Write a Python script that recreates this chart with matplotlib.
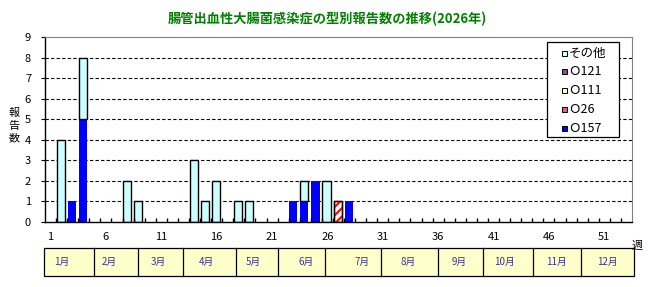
# 腸管出血性大腸菌感染症の型別報告数の推移
import numpy as np
import matplotlib
matplotlib.use('Agg')
import matplotlib.pyplot as plt
from matplotlib.patches import Rectangle

plt.rcParams['font.family'] = ['Noto Sans CJK JP', 'DejaVu Sans']
plt.rcParams['hatch.linewidth'] = 1.5

weeks = np.arange(1, 54)

# reports per week (weeks 1..53)
o157 = np.zeros(53)
o157[[2, 3, 22, 23, 24, 27]] = [1, 5, 1, 1, 2, 1]
o26 = np.zeros(53)
o26[26] = 1
o111 = np.zeros(53)
o121 = np.zeros(53)
other = np.zeros(53)
other[[1, 3, 7, 8, 13, 14, 15, 17, 18, 23, 25]] = [4, 3, 2, 1, 3, 1, 2, 1, 1, 1, 2]

week_ticks = [1, 6, 11, 16, 21, 26, 31, 36, 41, 46, 51]
months = ['1月', '2月', '3月', '4月', '5月', '6月', '7月', '8月', '9月', '10月', '11月', '12月']
# month cell edges (pixels) and label centres, as laid out in the original
month_edges = [44, 94, 137.5, 183, 236, 278, 325, 381, 437.5, 482.5, 532.5, 581, 634]
month_pos = [62, 109, 158, 206, 253, 306, 362, 408, 459, 504, 556, 607]

styles = {
    'O157': dict(facecolor='#0000FF', edgecolor='none'),
    'O26': dict(facecolor='white', edgecolor='#FF0000', hatch='////'),
    'O111': dict(facecolor='#FFFFCC', edgecolor='black'),
    'O121': dict(facecolor='white', edgecolor='#660066', hatch='\\\\\\\\'),
    'other': dict(facecolor='#CCFFFF', edgecolor='black'),
}
# legend swatches are too small for a hatch, so they get a mixed fill
swatches = {
    'other': '#CCFFFF',
    'O121': '#8C4C8C',
    'O111': '#FFFFCC',
    'O26': '#F06060',
    'O157': '#0000FF',
}

W, H = 655, 287
fig = plt.figure(figsize=(W / 100, H / 100), dpi=100)
ax = fig.add_axes([45 / W, 1 - 222 / H, (632 - 45) / W, (222 - 37) / H])

bw = 0.74
bottom = np.zeros(53)
for key, vals in [('O157', o157), ('O26', o26), ('O111', o111),
                  ('O121', o121), ('other', other)]:
    kw = styles[key]
    m = vals > 0
    ax.bar(weeks[m] - 0.08, vals[m], bw, bottom=bottom[m], linewidth=1.0, **kw)
    if 'hatch' in kw:
        ax.bar(weeks[m] - 0.08, vals[m], bw, bottom=bottom[m], fill=False,
               edgecolor='black', linewidth=1.0)
    bottom += vals

ax.set_xlim(0.5, 53.5)
ax.set_ylim(0, 9)
ax.set_yticks(range(0, 10))
ax.tick_params(axis='y', direction='out', length=3, labelsize=8, pad=7)
ax.set_xticks(week_ticks)
ax.set_xticklabels([str(w) for w in week_ticks])
ax.tick_params(axis='x', which='major', length=0, labelsize=8, pad=7)
ax.set_xticks(np.arange(1.5, 53, 1), minor=True)
ax.tick_params(axis='x', which='minor', direction='in', length=3, width=1)
for y in range(1, 9):
    ax.axhline(y, color='black', lw=0.8, ls=(0, (3, 2)), zorder=0.5)
for s in ['top', 'right']:
    ax.spines[s].set_color('#808080')
for s in ['left', 'bottom']:
    ax.spines[s].set_color('black')
    ax.spines[s].set_linewidth(1.0)

# overlay in pixel coordinates for title, legend, labels and month table
ov = fig.add_axes([0, 0, 1, 1], zorder=10)
ov.set_xlim(0, W)
ov.set_ylim(H, 0)
ov.axis('off')
ov.patch.set_alpha(0)

ov.text(327, 19, '腸管出血性大腸菌感染症の型別報告数の推移(2026年)',
        color='#008000', fontsize=9.5, fontweight='bold',
        ha='center', va='center')
for k, ch in enumerate('報告数'):
    ov.text(14, 113 + 12.5 * k, ch, fontsize=8, ha='center', va='center')
ov.text(637, 246, '週', fontsize=8, ha='center', va='center')

# legend box (top entry = top of stack)
leg_items = [('other', 'その他'), ('O121', 'Ｏ121'), ('O111', 'Ｏ111'),
             ('O26', 'Ｏ26'), ('O157', 'Ｏ157')]
ov.add_patch(Rectangle((547, 42), 72, 95, facecolor='white',
                       edgecolor='black', lw=0.9))
for k, (key, name) in enumerate(leg_items):
    yc = 53 + 18.75 * k
    ov.add_patch(Rectangle((561.5, yc - 2.5), 5, 5, lw=0.7,
                           facecolor=swatches[key], edgecolor='black'))
    ov.text(568.5, yc, name, fontsize=9, ha='left', va='center')

ov.add_patch(Rectangle((month_edges[0], 248), month_edges[-1] - month_edges[0], 28,
                       facecolor='#FFFFCC', edgecolor='black', lw=0.9))
for xe in month_edges[1:-1]:
    ov.plot([xe, xe], [248, 276], color='black', lw=0.9)
for xm, mn in zip(month_pos, months):
    ov.text(xm, 262, mn, fontsize=7, color='#333399', ha='center', va='center')

fig.savefig('out.png', dpi=100)
